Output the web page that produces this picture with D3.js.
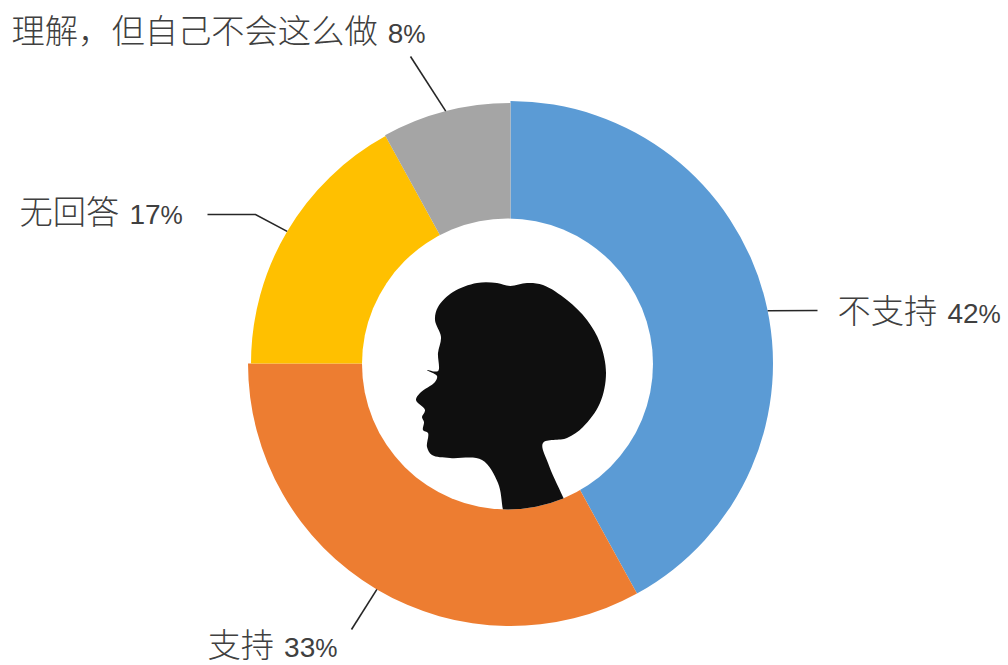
<!DOCTYPE html>
<html>
<head>
<meta charset="utf-8">
<script src="https://cdn.jsdelivr.net/npm/d3@7"></script>
<style>
  html, body { margin: 0; background: #fff; }
  svg { display: block; }
  text { font-family: "Noto Sans CJK SC", sans-serif; fill: #404040; font-size: 33.3px; font-weight: 300; }
  .num { font-family: "Liberation Sans", sans-serif; font-size: 28px; }
  .pct { font-family: "Liberation Sans Narrow", "Liberation Sans", sans-serif; font-size: 25px; }
</style>
</head>
<body>
<div id="chart"></div>
<script>
// datos de la grafica
var categories = ["不支持", "支持", "无回答", "理解，但自己不会这么做"];
var values = [42, 33, 17, 8];
var colors = ["#5B9BD5", "#ED7D31", "#FFC000", "#A5A5A5"];

// set the dimensions of the graph
var width = 1008, height = 665;
var cx = 510.5, cy = 363.5;
var outerRadii = [262.5, 262.5, 259.5, 260.5]; // the ring is not quite round in the original
var holeX = 507.5, holeY = 364, holeR = 145.5;

// label layout: text anchor, leader bend and end (relative to the centre)
var labelPos = [[327, -41], [-303, 293], [-491, -140], [-499, -321]];
var leaderBend = [null, null, [-255, -149], null];
var leaderEnd = [[307, -53], [-159, 266], [-303, -149], [-100, -307]];
var leaderNudge = [2.8, 0, 0, 0]; // degrees

// silueta decorativa, en pixeles de la imagen
var headOutline = [[510,286],[527,283],[543,285],[567,300],[587,320],[600,343],[606,373],[600,403],[583,427],[567,438],[543,443],[548,463],[563,497],[578,530],[533,535],[508,535],[503,510],[498,483],[482,460],[450,458],[432,455],[427,447],[428,433],[423,430],[424,422],[422,417],[425,410],[416,400],[420,393],[435,382],[437,376],[427,370],[438,371],[438,353],[441,337],[435,320],[438,307],[453,292],[477,283],[497,283]];

var svg = d3.select("#chart").append("svg")
    .attr("width", width)
    .attr("height", height);

var g = svg.append("g")
    .attr("transform", "translate(" + cx + "," + cy + ")");

var pie = d3.pie().sort(null)(values);
var arc = d3.arc()
    .innerRadius(holeR - 10)
    .outerRadius(function (d, i) { return outerRadii[i]; });

g.selectAll("path.slice")
    .data(pie)
    .enter().append("path")
    .attr("class", "slice")
    .attr("fill", function (d, i) { return colors[i]; })
    .attr("d", arc);

// hole sits slightly left of the ring centre in the original
svg.append("circle")
    .attr("cx", holeX).attr("cy", holeY).attr("r", holeR)
    .attr("fill", "#fff");

// head, clipped to the hole
svg.append("clipPath").attr("id", "hole")
    .append("circle").attr("cx", holeX).attr("cy", holeY).attr("r", holeR);

svg.append("path")
    .attr("clip-path", "url(#hole)")
    .attr("fill", "#0f0f0f")
    .attr("d", d3.line().curve(d3.curveCatmullRomClosed.alpha(0.5))(headOutline));

// leader lines
g.selectAll("path.leader")
    .data(pie)
    .enter().append("path")
    .attr("class", "leader")
    .attr("fill", "none")
    .attr("stroke", "#262626")
    .attr("stroke-width", 1.6)
    .attr("d", function (d, i) {
        var a = (d.startAngle + d.endAngle) / 2 + leaderNudge[i] * Math.PI / 180;
        var r = outerRadii[i];
        var pts = [[r * Math.sin(a), -r * Math.cos(a)]];
        if (leaderBend[i]) pts.push(leaderBend[i]);
        pts.push(leaderEnd[i]);
        return d3.line()(pts);
    });

// labels
var labels = g.selectAll("text.label")
    .data(pie)
    .enter().append("text")
    .attr("class", "label")
    .attr("x", function (d, i) { return labelPos[i][0]; })
    .attr("y", function (d, i) { return labelPos[i][1]; });

labels.append("tspan").text(function (d, i) { return categories[i]; });
labels.append("tspan").attr("class", "num").attr("dx", 10).text(function (d) { return d.value; });
labels.append("tspan").attr("class", "pct").text("%");
</script>
</body>
</html>
